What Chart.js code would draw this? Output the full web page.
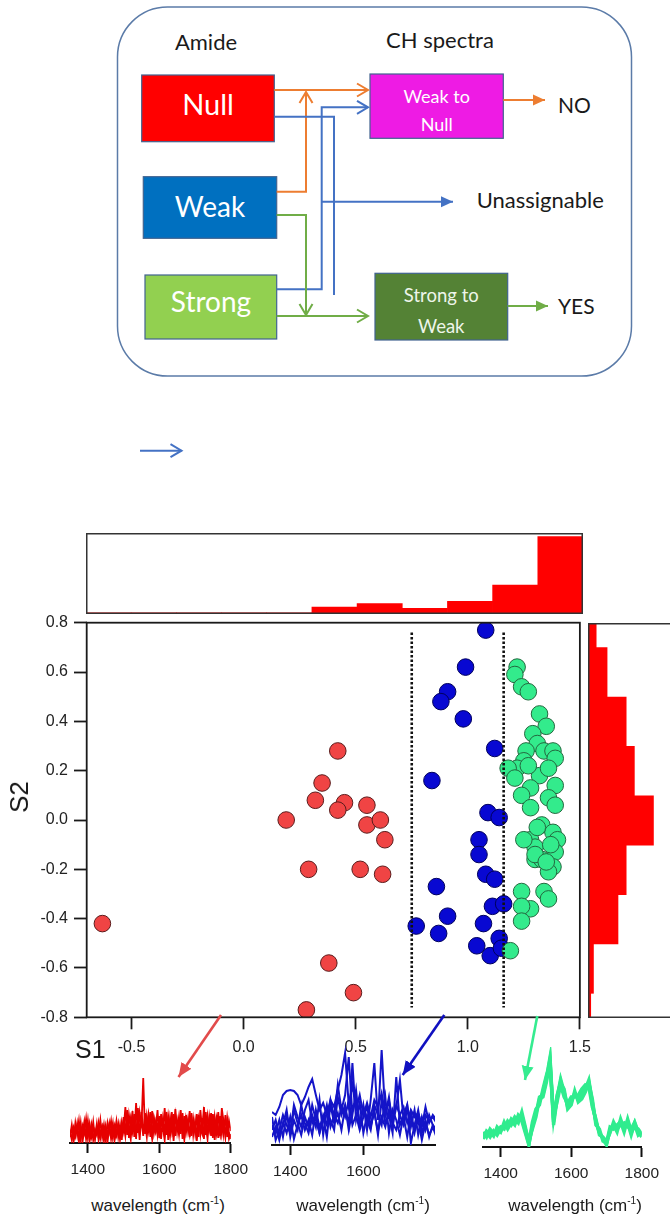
<!DOCTYPE html>
<html>
<head>
<meta charset="utf-8">
<script src="https://cdn.jsdelivr.net/npm/chart.js@4.4.1/dist/chart.umd.min.js"></script>
<style>
  html, body { margin: 0; padding: 0; background: #fff; }
  body { width: 670px; height: 1216px; overflow: hidden; position: relative;
         font-family: 'Liberation Sans', Arial, sans-serif; color: #1a1a1a; }
  canvas, svg { position: absolute; }
  .axis-title { position: absolute; line-height: 1; color: #1a1a1a; white-space: nowrap; }
  .wl { position: absolute; font-size: 17px; line-height: 1; white-space: nowrap; transform: translateX(-50%); color: #1a1a1a; }
  .wl sup { font-size: 10px; vertical-align: 7px; }
</style>
</head>
<body>

<!-- decision scheme -->
<svg width="670" height="470" style="left:0;top:0" font-family="Lato, 'Open Sans', sans-serif">
  <defs>
    <marker id="chevOrange" markerUnits="userSpaceOnUse" markerWidth="16" markerHeight="16" refX="13" refY="8" orient="auto">
      <path d="M2,1.5 L13,8 L2,14.5" fill="none" stroke="#ED7D31" stroke-width="2"/></marker>
    <marker id="chevBlue" markerUnits="userSpaceOnUse" markerWidth="16" markerHeight="16" refX="13" refY="8" orient="auto">
      <path d="M2,1.5 L13,8 L2,14.5" fill="none" stroke="#4472C4" stroke-width="2"/></marker>
    <marker id="chevGreen" markerUnits="userSpaceOnUse" markerWidth="16" markerHeight="16" refX="13" refY="8" orient="auto">
      <path d="M2,1.5 L13,8 L2,14.5" fill="none" stroke="#70AD47" stroke-width="2"/></marker>
    <marker id="triOrange" markerUnits="userSpaceOnUse" markerWidth="14" markerHeight="14" refX="12" refY="7" orient="auto">
      <path d="M0,1.5 L12,7 L0,12.5 z" fill="#ED7D31"/></marker>
    <marker id="triBlue" markerUnits="userSpaceOnUse" markerWidth="14" markerHeight="14" refX="12" refY="7" orient="auto">
      <path d="M0,1.5 L12,7 L0,12.5 z" fill="#4472C4"/></marker>
    <marker id="triGreen" markerUnits="userSpaceOnUse" markerWidth="14" markerHeight="14" refX="12" refY="7" orient="auto">
      <path d="M0,1.5 L12,7 L0,12.5 z" fill="#70AD47"/></marker>
  </defs>

  <rect x="117.5" y="7" width="514" height="369" rx="50" ry="50" fill="#fff" stroke="#5b7ba8" stroke-width="1.5"/>

  <text x="206" y="50" text-anchor="middle" font-size="22" fill="#1a1a1a">Amide</text>
  <text x="440" y="48" text-anchor="middle" font-size="22" fill="#1a1a1a">CH spectra</text>

  <rect x="141.7" y="75" width="132.6" height="66.7" fill="#FF0000" stroke="#41638f" stroke-width="1.2"/>
  <text x="208" y="115" text-anchor="middle" font-size="29" fill="#fff">Null</text>

  <rect x="143.3" y="176.7" width="133.4" height="61.6" fill="#0070C0" stroke="#41638f" stroke-width="1.2"/>
  <text x="210" y="217" text-anchor="middle" font-size="28" fill="#fff">Weak</text>

  <rect x="145" y="275" width="131.7" height="64" fill="#92D050" stroke="#41638f" stroke-width="1.2"/>
  <text x="211" y="311.5" text-anchor="middle" font-size="28" fill="#fff">Strong</text>

  <rect x="370" y="74" width="133.3" height="64.3" fill="#EE1BE4" stroke="#41638f" stroke-width="1.2"/>
  <text x="436.7" y="102.7" text-anchor="middle" font-size="18" fill="#fff">Weak to</text>
  <text x="436.7" y="130.7" text-anchor="middle" font-size="18" fill="#fff">Null</text>

  <rect x="375" y="273.3" width="132.7" height="66.7" fill="#548235" stroke="#41638f" stroke-width="1.2"/>
  <text x="441.3" y="301.7" text-anchor="middle" font-size="18.5" fill="#eef5ea">Strong to</text>
  <text x="441.3" y="332.7" text-anchor="middle" font-size="18.5" fill="#eef5ea">Weak</text>

  <text x="558" y="113.3" font-size="21" fill="#1a1a1a">NO</text>
  <text x="476.7" y="208.3" font-size="22" fill="#1a1a1a">Unassignable</text>
  <text x="558" y="314.3" font-size="21" fill="#1a1a1a">YES</text>

  <g fill="none" stroke-width="2">
    <path d="M274.3,90 H368" stroke="#ED7D31" marker-end="url(#chevOrange)"/>
    <path d="M276.7,191.7 H306 V92" stroke="#ED7D31" marker-end="url(#chevOrange)"/>
    <path d="M503.3,100 H545" stroke="#ED7D31" marker-end="url(#triOrange)"/>

    <path d="M274.3,116.7 H334 V295" stroke="#4472C4"/>
    <path d="M276.7,289.3 H321.7 V107.3 H368" stroke="#4472C4" marker-end="url(#chevBlue)"/>
    <path d="M321.7,201.7 H453" stroke="#4472C4" marker-end="url(#triBlue)"/>

    <path d="M276.7,215 H306 V315" stroke="#70AD47" marker-end="url(#chevGreen)"/>
    <path d="M276.7,316 H368" stroke="#70AD47" marker-end="url(#chevGreen)"/>
    <path d="M507.7,306 H548" stroke="#70AD47" marker-end="url(#triGreen)"/>

    <path d="M140,450.7 H181.5" stroke="#4472C4" marker-end="url(#chevBlue)"/>
  </g>
</svg>

<canvas id="histS1" width="497" height="81" style="left:86px;top:533px"></canvas>
<canvas id="scatter" width="600" height="460" style="left:0;top:600px"></canvas>
<canvas id="histS2" width="120" height="395" style="left:588px;top:623px"></canvas>

<canvas id="specNull" width="205" height="125" style="left:50px;top:1063px"></canvas>
<canvas id="specWeak" width="203" height="155" style="left:252px;top:1035px"></canvas>
<canvas id="specStrong" width="203" height="155" style="left:463px;top:1037px"></canvas>

<div class="axis-title" style="left:75px;top:1037px;font-size:25px">S1</div>
<div class="axis-title" style="left:19px;top:797px;font-size:26px;transform:translate(-50%,-50%) rotate(-90deg)">S2</div>

<div class="wl" style="left:158px;top:1196px">wavelength (cm<sup>-1</sup>)</div>
<div class="wl" style="left:363px;top:1196px">wavelength (cm<sup>-1</sup>)</div>
<div class="wl" style="left:575px;top:1196px">wavelength (cm<sup>-1</sup>)</div>

<!-- pointers from each group to its spectra -->
<svg width="670" height="100" style="left:0;top:1000px">
  <defs>
    <marker id="headRed" markerUnits="userSpaceOnUse" markerWidth="16" markerHeight="14" refX="14" refY="6" orient="auto">
      <path d="M0,0 L14,6 L0,12 z" fill="#E24B4B"/></marker>
    <marker id="headBlue" markerUnits="userSpaceOnUse" markerWidth="16" markerHeight="14" refX="14" refY="6" orient="auto">
      <path d="M0,0 L14,6 L0,12 z" fill="#1010C0"/></marker>
    <marker id="headGreen" markerUnits="userSpaceOnUse" markerWidth="16" markerHeight="14" refX="14" refY="6" orient="auto">
      <path d="M0,0 L14,6 L0,12 z" fill="#35EC90"/></marker>
  </defs>
  <path d="M221,15 L178.5,77" stroke="#E24B4B" stroke-width="2.6" fill="none" marker-end="url(#headRed)"/>
  <path d="M444.3,15 L402.7,75" stroke="#1010C0" stroke-width="2.6" fill="none" marker-end="url(#headBlue)"/>
  <path d="M537.3,16 L525,80" stroke="#35EC90" stroke-width="2.6" fill="none" marker-end="url(#headGreen)"/>
</svg>

<script>
// ---- score plot (S1 vs S2), grouped by amide class ----
const nullS1 = [0.42, 0.35, 0.32, 0.19, 0.45, 0.42, 0.55, 0.55, 0.61, 0.63, 0.29, 0.52, 0.62, 0.38, 0.49, 0.28, -0.63];
const nullS2 = [0.28, 0.15, 0.08, 0.00, 0.07, 0.04, 0.06, -0.02, 0.00, -0.08, -0.20, -0.20, -0.22, -0.58, -0.70, -0.77, -0.42];

const weakS1 = [1.08, 0.99, 0.91, 0.88, 0.98, 1.12, 0.84, 1.09, 1.14, 1.05,
                1.05, 1.08, 1.12, 0.86, 0.91, 0.77, 0.87, 1.11, 1.16, 1.07,
                1.14, 1.04, 1.10, 1.15];
const weakS2 = [0.77, 0.62, 0.52, 0.48, 0.41, 0.29, 0.16, 0.03, 0.01, -0.08,
                -0.14, -0.22, -0.24, -0.27, -0.39, -0.43, -0.46, -0.35, -0.34, -0.42,
                -0.48, -0.51, -0.55, -0.52];

const strongS1 = [1.22, 1.21, 1.24, 1.27, 1.32, 1.35, 1.29, 1.31, 1.26, 1.34,
                  1.38, 1.39, 1.25, 1.22, 1.18, 1.21, 1.32, 1.36, 1.28, 1.39,
                  1.24, 1.36, 1.39, 1.28, 1.33, 1.38, 1.40, 1.28, 1.30, 1.39,
                  1.30, 1.33, 1.38, 1.36, 1.24, 1.34, 1.36, 1.28, 1.24, 1.24,
                  1.19, 1.25, 1.30, 1.31, 1.37, 1.35, 1.27];
const strongS2 = [0.62, 0.59, 0.54, 0.52, 0.43, 0.38, 0.35, 0.31, 0.28, 0.28,
                  0.28, 0.25, 0.24, 0.21, 0.21, 0.17, 0.18, 0.21, 0.13, 0.14,
                  0.10, 0.09, 0.06, 0.05, -0.02, -0.05, -0.08, -0.08, -0.11, -0.13,
                  -0.16, -0.16, -0.19, -0.21, -0.29, -0.29, -0.32, -0.36, -0.35, -0.41,
                  -0.53, -0.08, -0.14, -0.03, -0.10, -0.17, 0.22];

// S1 class boundaries (dotted) and their vertical extent
const s1Cuts = [0.75, 1.16];
const cutSpan = [0.76, -0.76];

const s1Ticks = [-0.5, 0.0, 0.5, 1.0, 1.5];
const s2Ticks = [-0.8, -0.6, -0.4, -0.2, 0.0, 0.2, 0.4, 0.6, 0.8];

// ---- marginal histograms ----
const s1BinCenters = [-0.6, -0.4, -0.2, 0.0, 0.2, 0.4, 0.6, 0.8, 1.0, 1.2, 1.4];
const s1Counts     = [1, 1, 1, 1, 1, 6, 9, 5, 11, 25, 67];
const s2BinCenters = [0.8, 0.6, 0.4, 0.2, 0.0, -0.2, -0.4, -0.6, -0.8];
const s2Counts     = [3, 7, 14, 17, 24, 14, 11, 2, 1];

// ---- CH spectra (intensity, arbitrary units) ----
const waveStart = 1350;
const nullStep = 5;
const nullSpectra = [
  [6,18,4,20,8,22,3,17,10,24,5,19,7,21,4,16,9,23,6,18,3,20,11,22,5,17,8,19,4,21,
   12,36,8,28,14,32,6,40,10,30,16,65,9,27,13,31,7,25,15,33,
   5,29,11,35,8,27,14,31,6,34,12,26,9,30,5,28,13,32,7,24,
   10,29,6,33,12,36,8,27,14,30,5,26,11,31,7,25,9,28,6,22,12],
  [12,3,15,7,19,2,14,9,21,4,16,6,18,3,13,8,20,5,15,2,17,7,19,4,14,10,22,6,18,3,
   26,9,33,5,24,12,29,4,35,11,22,7,30,13,26,6,32,10,21,8,
   27,4,24,10,31,3,25,12,29,7,22,9,33,4,27,11,23,6,30,8,
   22,5,28,9,25,4,31,10,23,7,29,12,24,5,27,9,21,6,25,10,4],
  [9,14,2,11,16,5,20,1,13,7,22,2,12,15,6,19,3,11,17,8,13,1,16,10,20,3,12,18,6,15,
   20,7,25,15,4,27,18,9,24,3,31,14,20,6,28,16,4,23,11,18,
   9,21,15,3,26,18,7,23,2,28,16,10,21,14,3,25,17,8,22,12,
   17,2,24,14,9,30,18,4,26,13,20,3,23,15,8,35,20,12,17,4,9]
];

const specStep = 10;
const weakSpectra = [
  [33,30,38,50,54,55,54,50,40,48,58,66,50,35,42,30,45,38,55,70,92,40,60,35,50,30,42,28,45,38,52,30,44,25,40,30,38,22,35,28,32,20,30,24,28,22],
  [20,12,25,8,30,15,35,22,10,28,18,40,25,12,30,20,45,28,60,35,50,88,30,55,20,40,15,45,82,25,95,30,48,20,38,65,25,40,18,35,10,28,15,30,20,12],
  [8,18,5,22,12,28,6,20,30,15,25,10,35,18,28,8,40,22,32,15,38,20,82,25,42,12,30,18,35,10,45,22,30,12,68,20,28,8,32,15,25,5,22,10,18,8],
  [15,25,10,20,35,8,25,15,40,22,12,30,18,45,10,35,25,15,48,30,40,15,35,45,20,38,25,15,40,30,20,48,12,35,25,10,30,40,2,20,35,12,25,8,20,15],
  [28,5,15,30,20,12,40,28,18,35,45,22,30,12,25,40,18,30,22,38,28,45,20,30,15,28,38,20,32,14,28,18,35,22,15,30,20,35,28,12,30,18,38,22,30,25]
];

const strongSpectra = [
  [12,14,10,16,12,18,22,20,28,24,30,26,14,2,22,35,45,55,70,90,25,50,68,55,40,45,54,48,52,58,67,45,25,15,8,2,18,22,15,28,18,26,14,22,12,15],
  [8,16,13,12,18,15,25,18,24,30,26,32,18,6,18,30,48,50,65,85,30,45,62,50,44,50,50,52,58,62,60,40,28,12,10,6,14,25,18,22,24,20,18,25,15,10],
  [15,10,18,14,15,20,18,26,22,28,24,35,20,4,25,38,42,58,72,82,28,52,64,58,38,42,56,45,48,55,64,48,22,18,6,4,20,18,22,25,15,28,16,20,18,13],
  [10,13,15,11,20,16,21,23,26,22,32,28,16,3,20,33,50,52,68,88,22,48,66,52,42,48,52,50,55,60,65,42,26,14,9,3,16,20,20,26,20,24,12,24,14,12]
];

const nullTicks = [1400, 1600, 1800];
const weakTicks = [1400, 1600];
const strongTicks = [1400, 1600, 1800];

Chart.defaults.font.family = "'Liberation Sans', Arial, sans-serif";
Chart.defaults.color = '#222';

// outline around the plotting area
const frame = {
  id: 'frame',
  afterDatasetsDraw(chart, args, opts) {
    const { ctx, chartArea: a } = chart;
    const w = opts.width || 1.5;
    const h = opts.inset ? w / 2 : 0;
    ctx.save();
    ctx.strokeStyle = opts.color || '#222';
    ctx.lineWidth = w;
    ctx.strokeRect(a.left + h, a.top + h, a.width - 2 * h, a.height - 2 * h);
    ctx.restore();
  }
};

const pts = (xs, ys) => xs.map((x, i) => ({ x, y: ys[i] }));
const quiet = { legend: { display: false }, tooltip: { enabled: false } };

// main score plot
new Chart(document.getElementById('scatter'), {
  type: 'scatter',
  data: {
    datasets: [
      ...s1Cuts.map(c => ({
        type: 'line', showLine: true, data: [{ x: c, y: cutSpan[0] }, { x: c, y: cutSpan[1] }],
        borderColor: '#111', borderWidth: 2.6, borderDash: [2.4, 2.1], borderCapStyle: 'butt',
        pointRadius: 0, order: 0
      })),
      { label: 'Strong', data: pts(strongS1, strongS2), backgroundColor: '#33EB8C', borderColor: '#24683f',
        borderWidth: 1, pointRadius: 8.3, order: 1 },
      { label: 'Weak', data: pts(weakS1, weakS2), backgroundColor: '#0808D2', borderColor: '#00005c',
        borderWidth: 1, pointRadius: 8.3, order: 2 },
      { label: 'Null', data: pts(nullS1, nullS2), backgroundColor: '#F04444', borderColor: '#5a1c1c',
        borderWidth: 1, pointRadius: 8.3, order: 3 }
    ]
  },
  options: {
    responsive: false, animation: false, events: [],
    layout: { padding: { left: 0, top: 22.7, right: 16.7, bottom: 0 } },
    plugins: { ...quiet, frame: { width: 1.8, color: '#1a1a1a' } },
    scales: {
      x: {
        type: 'linear', min: -0.7, max: 1.5,
        afterBuildTicks: s => { s.ticks = s1Ticks.map(v => ({ value: v })); },
        afterFit: s => { s.height = 42.7; },
        grid: { drawOnChartArea: false, tickLength: 12, tickWidth: 1.8, tickColor: '#1a1a1a' },
        border: { display: false },
        ticks: { padding: 9, font: { size: 16 }, color: '#222', maxRotation: 0, autoSkip: false,
                 callback: v => Number(v).toFixed(1) }
      },
      y: {
        type: 'linear', min: -0.8, max: 0.8,
        afterBuildTicks: s => { s.ticks = s2Ticks.map(v => ({ value: v })); },
        afterFit: s => { s.width = 86.7; },
        grid: { drawOnChartArea: false, tickLength: 12.7, tickWidth: 1.8, tickColor: '#1a1a1a' },
        border: { display: false },
        ticks: { padding: 6, font: { size: 16 }, color: '#222', autoSkip: false,
                 callback: v => Number(v).toFixed(1) }
      }
    }
  },
  plugins: [frame]
});

// S1 marginal histogram (top)
new Chart(document.getElementById('histS1'), {
  type: 'bar',
  data: { datasets: [{ data: pts(s1BinCenters, s1Counts), backgroundColor: '#FF0000', borderWidth: 0,
                       barPercentage: 1, categoryPercentage: 1 }] },
  options: {
    responsive: false, animation: false, events: [],
    layout: { padding: 0 },
    plugins: { ...quiet, frame: { width: 1.5, color: '#333', inset: true } },
    scales: {
      x: { type: 'linear', min: -0.7, max: 1.5, offset: false, display: false },
      y: { min: 0, max: 70, display: false }
    }
  },
  plugins: [frame]
});

// S2 marginal histogram (right)
new Chart(document.getElementById('histS2'), {
  type: 'bar',
  data: { datasets: [{ data: s2BinCenters.map((y, i) => ({ x: s2Counts[i], y })), backgroundColor: '#FF0000',
                       borderWidth: 0, barPercentage: 1, categoryPercentage: 1, clip: 0 }] },
  options: {
    indexAxis: 'y',
    responsive: false, animation: false, events: [],
    layout: { padding: 0 },
    plugins: { ...quiet, frame: { width: 1.5, color: '#333', inset: true } },
    scales: {
      y: { type: 'linear', min: -0.8, max: 0.8, offset: false, display: false },
      x: { min: 0, max: 44, display: false }
    }
  },
  plugins: [frame]
});

// CH spectra panels
function spectrumChart(id, traces, step, color, lineWidth, xMax, yMax, tickVals) {
  return new Chart(document.getElementById(id), {
    type: 'line',
    data: {
      datasets: traces.map(t => ({
        data: t.map((v, j) => ({ x: waveStart + j * step, y: v })),
        borderColor: color, borderWidth: lineWidth, pointRadius: 0, tension: 0, fill: false
      }))
    },
    options: {
      responsive: false, animation: false, events: [],
      layout: { padding: { left: 20, right: 20, top: 10, bottom: 0 } },
      plugins: quiet,
      scales: {
        x: {
          type: 'linear', min: waveStart, max: xMax,
          afterBuildTicks: s => { s.ticks = tickVals.map(v => ({ value: v })); },
          afterFit: s => { s.height = 45; },
          grid: { drawOnChartArea: false, tickLength: 10, tickWidth: 2, tickColor: '#111' },
          border: { display: true, color: '#111', width: 2 },
          ticks: { padding: 7, font: { size: 15.5 }, color: '#222', maxRotation: 0, autoSkip: false,
                   callback: v => String(v) }
        },
        y: { display: false, min: 0, max: yMax }
      }
    }
  });
}

spectrumChart('specNull', nullSpectra, nullStep, '#E60000', 1.8, 1800, 70, nullTicks);
spectrumChart('specWeak', weakSpectra, specStep, '#1414C8', 2, 1796, 100, weakTicks);
spectrumChart('specStrong', strongSpectra, specStep, '#30EC8E', 3.4, 1800, 100, strongTicks);
</script>
</body>
</html>
